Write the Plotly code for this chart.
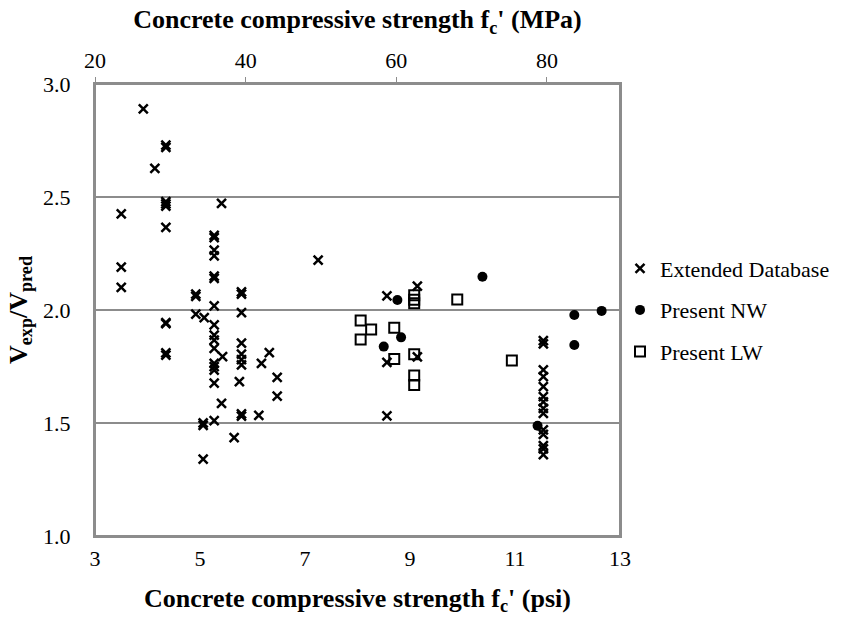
import plotly.graph_objects as go

# Extended database: concrete strength (ksi) and shear strength ratio
ext_fc = [3.50, 3.50, 3.50, 3.92, 4.14,
          4.35, 4.35, 4.35, 4.35, 4.35, 4.35, 4.35, 4.35, 4.35, 4.35,
          4.92, 4.92, 4.92, 5.08, 5.06, 5.06, 5.06,
          5.27, 5.27, 5.27, 5.27, 5.27, 5.27, 5.27, 5.27, 5.27, 5.27, 5.27, 5.27, 5.27, 5.27, 5.27, 5.27,
          5.41, 5.43, 5.41, 5.65, 5.75,
          5.79, 5.79, 5.79, 5.79, 5.79, 5.79, 5.79, 5.79, 5.79,
          6.12, 6.17, 6.32, 6.47, 6.47, 7.25,
          8.56, 8.56, 8.56, 9.14, 9.14,
          11.54, 11.54, 11.54, 11.54, 11.54, 11.54, 11.54, 11.54, 11.54, 11.54, 11.54, 11.54, 11.54, 11.54]
ext_ratio = [2.425, 2.19, 2.10, 2.89, 2.627,
             2.73, 2.72, 2.48, 2.47, 2.46, 2.366, 1.944, 1.94, 1.80, 1.81,
             2.07, 2.06, 1.982, 1.966, 1.50, 1.49, 1.34,
             2.33, 2.32, 2.265, 2.24, 2.15, 2.14, 2.018, 1.934, 1.889, 1.867, 1.83, 1.764, 1.749, 1.734, 1.676, 1.51,
             2.472, 1.794, 1.587, 1.435, 1.683,
             2.08, 2.07, 1.988, 1.853, 1.805, 1.78, 1.757, 1.54, 1.53,
             1.534, 1.764, 1.811, 1.702, 1.619, 2.221,
             2.063, 1.768, 1.532, 2.106, 1.793,
             1.865, 1.85, 1.735, 1.705, 1.661, 1.617, 1.594, 1.565, 1.543, 1.47, 1.45, 1.40, 1.385, 1.36]

# Present normal-weight specimens
nw_fc = [8.50, 8.76, 8.83, 10.38, 11.43, 12.13, 12.13, 12.65]
nw_ratio = [1.838, 2.044, 1.879, 2.147, 1.488, 1.978, 1.845, 1.996]

# Present lightweight specimens
lw_fc = [8.06, 8.06, 8.26, 8.70, 8.70, 9.08, 9.08, 9.08, 9.08, 9.08, 9.08, 9.90, 10.94]
lw_ratio = [1.953, 1.870, 1.914, 1.922, 1.783, 2.065, 2.045, 2.03, 1.804, 1.71, 1.668, 2.047, 1.776]

x_ticks = [3, 5, 7, 9, 11, 13]
y_ticks = [1.0, 1.5, 2.0, 2.5, 3.0]
mpa_ticks = [20, 40, 60, 80]
mpa_range = [20, 89.7]

FONT = "Liberation Serif"
GRID = "#8c8c8c"

fig = go.Figure()
fig.add_trace(go.Scatter(
    x=ext_fc, y=ext_ratio, mode="markers", name="Extended Database",
    legendgroup="a",
    marker=dict(symbol="x-thin", size=9, color="black",
                line=dict(color="black", width=2.5)),
))
fig.add_trace(go.Scatter(
    x=nw_fc, y=nw_ratio, mode="markers", name="Present NW",
    legendgroup="b",
    marker=dict(symbol="circle", size=10, color="black"),
))
fig.add_trace(go.Scatter(
    x=lw_fc, y=lw_ratio, mode="markers", name="Present LW",
    legendgroup="c",
    marker=dict(symbol="square-open", size=10, color="black",
                line=dict(color="black", width=2)),
))
# empty carrier trace so the secondary MPa axis along the top is drawn
fig.add_trace(go.Scatter(
    x=mpa_ticks, y=[None] * len(mpa_ticks), xaxis="x2", yaxis="y",
    mode="markers", showlegend=False, hoverinfo="skip",
))

fig.update_layout(
    width=845, height=621,
    margin=dict(l=95, r=225, t=84, b=85, pad=0, autoexpand=False),
    paper_bgcolor="white", plot_bgcolor="white",
    font=dict(family=FONT, size=22, color="black"),
    showlegend=True,
    legend=dict(x=1.0, y=0.5, xanchor="left", yanchor="middle",
                font=dict(size=22, family=FONT), tracegroupgap=10,
                itemwidth=30, bgcolor="rgba(0,0,0,0)"),
    xaxis=dict(
        range=[3, 13], tickvals=x_ticks, ticktext=[str(v) for v in x_ticks],
        tickfont=dict(family=FONT, size=22),
        showgrid=False, zeroline=False,
        showline=True, linecolor=GRID, linewidth=2, mirror=False,
        ticks="", ticklabelstandoff=2,
        title=dict(text="<b>Concrete compressive strength f<sub>c</sub>' (psi)</b>",
                   font=dict(size=26, family=FONT), standoff=18),
    ),
    xaxis2=dict(
        range=mpa_range, tickvals=mpa_ticks, ticktext=[str(v) for v in mpa_ticks],
        tickfont=dict(family=FONT, size=22),
        overlaying="x", side="top", anchor="y",
        showgrid=False, zeroline=False,
        showline=True, linecolor=GRID, linewidth=2,
        ticks="outside", ticklen=5, tickcolor=GRID, tickwidth=1,
        title=dict(text="<b>Concrete compressive strength f<sub>c</sub>' (MPa)</b>",
                   font=dict(size=26, family=FONT), standoff=12),
    ),
    yaxis=dict(
        range=[1.0, 3.0], tickvals=y_ticks, ticktext=[f"{v:.1f}" for v in y_ticks],
        tickfont=dict(family=FONT, size=22),
        showgrid=True, gridcolor=GRID, gridwidth=2, zeroline=False,
        showline=True, linecolor=GRID, linewidth=2, mirror=True,
        ticks="", ticklabelstandoff=18,
        title=dict(text="<b>V<sub>exp</sub>/V<sub>pred</sub></b>",
                   font=dict(size=26, family=FONT), standoff=8),
    ),
)
# border around the plotting area
fig.add_shape(type="rect", xref="x domain", yref="y domain", x0=0, x1=1, y0=0, y1=1,
              line=dict(color=GRID, width=2), layer="below")

fig.write_html("out.html")
